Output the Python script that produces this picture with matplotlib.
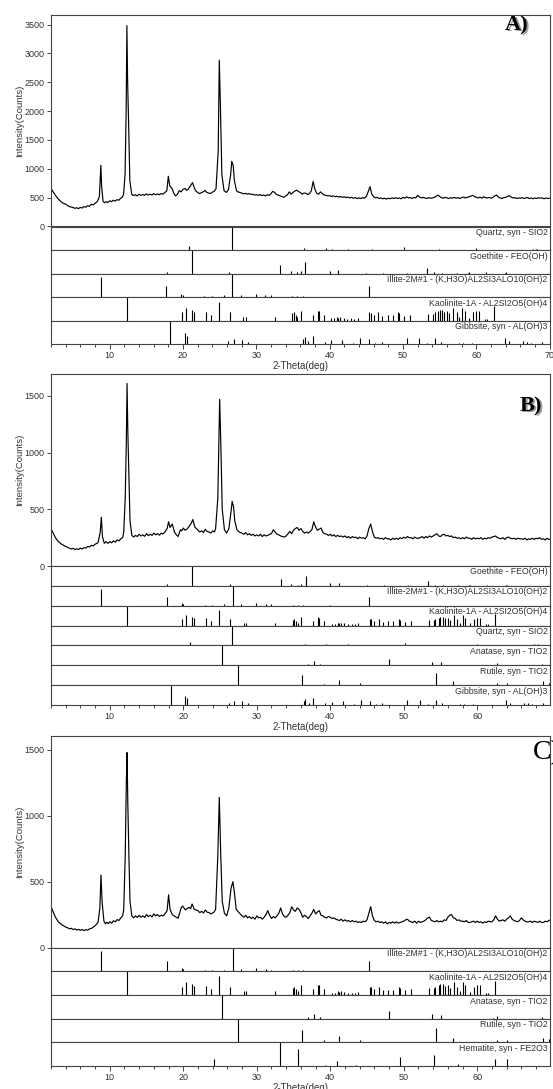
import matplotlib
matplotlib.use('Agg')
import matplotlib.pyplot as plt
import numpy as np
from matplotlib.ticker import MultipleLocator

plt.rcParams['font.family'] = ['Liberation Sans', 'DejaVu Sans']

# ---- measured patterns (2-theta, counts) ----
# low-angle part, read point by point
A_theta_lo = [2.0, 2.3, 2.6, 3.0, 3.5, 4.0, 4.5, 5.0, 5.25, 5.5, 5.75, 6.0, 6.25, 6.5, 6.75, 7.0, 7.25, 7.5,
              7.75, 8.0, 8.3, 8.6, 8.8, 8.9, 9.1, 9.3, 9.5, 9.75, 10.0, 10.25, 10.5, 10.75, 11.0, 11.25, 11.5,
              11.75, 11.9, 12.1, 12.25, 12.35, 12.45, 12.6, 12.75, 13.0, 13.25, 13.5, 13.75, 14.0, 14.25, 14.5,
              14.75, 15.0, 15.25, 15.5, 15.75, 16.0, 16.25, 16.5, 16.75, 17.0, 17.25, 17.5, 17.8, 18.0, 18.2,
              18.5, 18.8, 19.0, 19.25, 19.5, 19.75, 20.0, 20.3, 20.5, 20.7, 21.0, 21.3, 21.6, 21.8, 22.0,
              22.25, 22.5, 22.75, 23.0, 23.25, 23.5, 23.75, 24.0, 24.25, 24.5, 24.8, 24.95, 25.1, 25.3, 25.6,
              25.9, 26.2, 26.5, 26.65, 26.85, 27.0, 27.3, 27.5, 27.75]
A_counts_lo = [660, 600, 540, 475, 415, 385, 345, 330, 315, 325, 310, 330, 320, 345, 335, 360, 350, 385,
               375, 400, 430, 520, 1060, 700, 440, 410, 430, 415, 445, 430, 455, 440, 465, 455, 490,
               510, 560, 900, 2000, 3480, 2500, 1700, 800, 560, 535, 550, 530, 560, 540, 555,
               540, 565, 545, 560, 545, 570, 550, 565, 550, 570, 560, 585, 620, 870, 700,
               660, 560, 530, 560, 620, 600, 645, 660, 625, 645, 700, 760, 650, 610, 590,
               570, 585, 600, 625, 590, 580, 570, 595, 610, 650, 1300, 2880, 2100, 900, 620,
               590, 640, 900, 1130, 1060, 800, 620, 600, 590]

B_theta_lo = [2.0, 2.3, 2.6, 3.0, 3.5, 4.0, 4.5, 4.75, 5.0, 5.25, 5.5, 5.75, 6.0, 6.25, 6.5, 6.75, 7.0, 7.25,
              7.5, 7.75, 8.0, 8.4, 8.7, 8.85, 9.0, 9.25, 9.5, 9.75, 10.0, 10.25, 10.5, 10.75, 11.0, 11.25,
              11.5, 11.75, 11.9, 12.1, 12.25, 12.35, 12.45, 12.6, 12.75, 13.0, 13.25, 13.5, 13.75, 14.0,
              14.25, 14.5, 14.75, 15.0, 15.25, 15.5, 15.75, 16.0, 16.25, 16.5, 16.75, 17.0, 17.25, 17.5,
              17.8, 18.0, 18.2, 18.5, 18.8, 19.0, 19.3, 19.6, 19.8, 20.0, 20.25, 20.5, 20.8, 21.1, 21.3,
              21.6, 21.8, 22.0, 22.25, 22.5, 22.75, 23.0, 23.25, 23.5, 23.75, 24.0, 24.25, 24.4, 24.7,
              24.95, 25.1, 25.3, 25.6, 25.9, 26.2, 26.5, 26.65, 26.85, 27.0, 27.3, 27.5, 27.75]
B_counts_lo = [330, 290, 250, 215, 190, 172, 158, 150, 156, 145, 152, 146, 158, 150, 162, 158, 172, 168,
               182, 178, 192, 205, 300, 430, 260, 200, 215, 200, 215, 205, 222, 210, 230, 222,
               240, 250, 300, 600, 1100, 1610, 1200, 800, 400, 270, 255, 270, 260, 280,
               265, 275, 262, 285, 268, 280, 270, 290, 275, 285, 272, 290, 282, 300,
               330, 390, 340, 370, 300, 280, 260, 320, 310, 335, 315, 325, 350, 380, 410,
               340, 330, 315, 300, 310, 295, 325, 305, 300, 290, 310, 300, 330, 600,
               1470, 1100, 500, 320, 290, 330, 480, 570, 520, 400, 320, 305, 295]

C_theta_lo = [2.0, 2.3, 2.6, 3.0, 3.5, 4.0, 4.25, 4.5, 4.75, 5.0, 5.25, 5.5, 5.75, 6.0, 6.25, 6.5, 6.75, 7.0,
              7.25, 7.5, 7.75, 8.0, 8.4, 8.65, 8.8, 8.95, 9.2, 9.4, 9.6, 9.8, 10.0, 10.25, 10.5, 10.75,
              11.0, 11.25, 11.5, 11.75, 11.9, 12.1, 12.25, 12.35, 12.45, 12.6, 12.75, 13.0, 13.25, 13.5,
              13.75, 14.0, 14.25, 14.5, 14.75, 15.0, 15.25, 15.5, 15.75, 16.0, 16.25, 16.5, 16.75, 17.0,
              17.25, 17.5, 17.8, 18.0, 18.2, 18.5, 18.75, 19.0, 19.3, 19.7, 19.9, 20.1, 20.3, 20.5, 20.8,
              21.0, 21.2, 21.5, 21.75, 22.0, 22.25, 22.5, 22.75, 23.0, 23.25, 23.5, 23.75, 24.0, 24.2,
              24.4, 24.7, 24.9, 25.1, 25.3, 25.6, 25.9, 26.2, 26.5, 26.75, 26.95, 27.2, 27.5, 27.75]
C_counts_lo = [310, 270, 230, 195, 172, 155, 150, 142, 146, 136, 142, 132, 138, 130, 137, 128, 136, 132,
               142, 145, 155, 165, 190, 300, 550, 350, 200, 180, 192, 182, 195, 185, 203, 195,
               212, 205, 225, 240, 290, 700, 1250, 1480, 1100, 700, 350, 240, 225, 240,
               228, 245, 230, 240, 228, 250, 235, 245, 232, 255, 240, 250, 236, 245,
               240, 255, 280, 400, 290, 250, 240, 232, 222, 300, 315, 300, 285, 295, 305,
               295, 330, 290, 285, 280, 265, 275, 262, 285, 268, 265, 255, 262, 270,
               290, 700, 1140, 700, 350, 260, 240, 300, 450, 500, 420, 290, 270, 255]

# high-angle part, read every 0.25 deg from 28 to 70
theta_hi = np.arange(28.0, 70.001, 0.25)
A_counts_hi = [580, 565, 575, 560, 570, 555, 560, 545, 550, 540, 555, 535, 545, 530, 550, 540,
               570, 610, 590, 555, 545, 530, 520, 505, 530, 550, 600, 560, 590, 615, 630, 605,
               590, 560, 580, 575, 555, 570, 620, 780, 640, 575, 560, 600, 570, 545, 540, 530,
               535, 520, 530, 515, 525, 510, 520, 505, 515, 500, 510, 495, 505, 490, 500, 485,
               495, 485, 500, 490, 520, 600, 690, 560, 515, 495, 505, 485, 495, 480, 490, 475,
               490, 480, 495, 485, 500, 485, 495, 480, 505, 490, 515, 495, 500, 485, 505, 495,
               540, 510, 495, 505, 495, 485, 500, 490, 495, 505, 520, 545, 520, 500, 490, 505,
               495, 485, 500, 490, 505, 490, 500, 485, 500, 510, 495, 505, 515, 525, 540, 520,
               505, 495, 510, 490, 515, 500, 495, 505, 490, 505, 530, 545, 510, 495, 485, 500,
               505, 520, 535, 510, 495, 500, 485, 495, 490, 500, 485, 495, 500, 485, 495, 480,
               495, 485, 500, 490, 495, 480, 495, 485, 490]
B_counts_hi = [290, 280, 295, 275, 285, 270, 280, 265, 275, 265, 280, 260, 275, 265, 270, 280,
               285, 320, 300, 280, 275, 265, 260, 255, 265, 285, 305, 285, 315, 330, 340, 315,
               330, 305, 290, 300, 290, 305, 320, 390, 345, 315, 325, 335, 295, 285, 280, 270,
               280, 265, 275, 260, 270, 260, 265, 255, 265, 250, 260, 245, 260, 250, 255, 240,
               255, 245, 250, 240, 265, 330, 370, 300, 255, 245, 250, 240, 245, 235, 250, 240,
               240, 230, 245, 235, 245, 235, 250, 240, 255, 245, 260, 250, 250, 240, 255, 245,
               245, 250, 260, 245, 260, 250, 265, 255, 265, 275, 285, 265, 260, 275, 280, 265,
               270, 260, 265, 250, 255, 245, 250, 240, 250, 240, 255, 245, 245, 235, 250, 240,
               245, 240, 250, 235, 245, 240, 250, 245, 255, 260, 265, 250, 245, 240, 250, 235,
               250, 255, 245, 240, 245, 235, 245, 240, 240, 235, 245, 230, 240, 235, 245, 235,
               245, 240, 250, 235, 240, 230, 245, 235, 235]
C_counts_hi = [240, 230, 245, 225, 235, 220, 230, 215, 240, 225, 230, 215, 230, 250, 280, 245,
               220, 235, 225, 240, 260, 300, 255, 235, 230, 245, 265, 310, 285, 275, 300, 290,
               265, 230, 245, 235, 220, 240, 260, 290, 255, 270, 280, 245, 240, 230, 225, 235,
               230, 220, 225, 215, 210, 205, 215, 200, 210, 200, 205, 195, 205, 195, 200, 190,
               195, 190, 200, 195, 210, 260, 310, 240, 205, 195, 200, 190, 195, 185, 195, 180,
               190, 185, 195, 185, 195, 185, 190, 195, 200, 210, 215, 200, 195, 190, 200, 185,
               200, 190, 195, 200, 210, 225, 230, 205, 200, 195, 205, 195, 200, 195, 210, 205,
               230, 245, 250, 225, 220, 205, 210, 200, 200, 195, 205, 190, 190, 195, 200, 190,
               200, 190, 195, 185, 195, 190, 200, 195, 195, 210, 240, 215, 200, 205, 210, 200,
               215, 225, 240, 215, 205, 200, 195, 205, 225, 210, 200, 195, 195, 200, 190, 200,
               195, 190, 200, 190, 190, 200, 195, 205, 210]

# ---- reference stick patterns (2-theta, relative intensity %) ----
quartz_pos = [20.86, 26.64, 36.54, 39.47, 40.29, 42.45, 45.79, 50.14, 54.87, 55.33, 59.96, 64.03, 67.74, 68.14, 68.31]
quartz_int = [16, 100, 7, 7, 4, 5, 3, 11, 3, 2, 8, 2, 5, 4, 6]

goethite_pos = [17.8, 21.22, 26.3, 33.24, 34.7, 35.6, 36.05, 36.65, 39.98, 41.19, 45.0, 47.3, 50.6, 53.24,
                54.2, 55.3, 57.4, 58.9, 59.0, 61.3, 63.9, 64.0]
goethite_int = [8, 100, 7, 35, 10, 6, 10, 50, 12, 16, 3, 3, 4, 22, 5, 3, 3, 4, 6, 5, 4, 6]

illite_pos = [8.84, 17.72, 19.78, 20.0, 22.9, 23.9, 25.6, 26.75, 27.9, 29.9, 31.2, 32.0, 34.9, 35.6, 36.3, 40.0, 45.3]
illite_int = [85, 45, 12, 10, 5, 6, 7, 100, 10, 12, 8, 7, 6, 5, 5, 2, 45]

kaolinite_pos = [12.36, 19.86, 20.36, 21.24, 21.5, 23.1, 23.8, 24.9, 26.4, 28.2, 28.6, 32.5, 34.9, 35.1, 35.4,
                 35.6, 36.05, 37.7, 38.35, 38.5, 39.2, 40.2, 40.6, 41.0, 41.2, 41.4, 41.9, 42.4, 42.9, 43.3,
                 43.8, 45.4, 45.6, 46.0, 46.6, 47.2, 47.9, 48.6, 49.3, 49.5, 50.2, 51.0, 53.4, 54.1, 54.3,
                 54.8, 55.0, 55.3, 55.6, 56.0, 56.3, 56.8, 57.3, 57.7, 58.1, 58.4, 59.0, 59.6, 60.0, 60.4,
                 61.2, 61.5, 62.4]
kaolinite_int = [100, 35, 55, 45, 38, 38, 25, 78, 35, 15, 15, 15, 30, 35, 25,
                 15, 42, 25, 42, 40, 25, 10, 10, 15, 12, 15, 12, 8, 10, 8,
                 12, 35, 32, 25, 35, 20, 22, 22, 35, 30, 20, 25, 28, 28, 35,
                 40, 45, 45, 38, 40, 30, 55, 35, 15, 55, 40, 12, 35, 40, 40,
                 8, 8, 60]

gibbsite_pos = [18.28, 20.28, 20.5, 26.2, 26.9, 28.0, 28.8, 36.4, 36.6, 37.1, 37.7, 39.3, 40.2, 41.7, 43.2,
                44.2, 45.4, 46.2, 47.1, 50.5, 52.2, 53.3, 54.4, 55.2, 57.6, 58.2, 59.4, 63.9, 64.5, 66.4,
                66.9, 67.4, 68.9]
gibbsite_int = [100, 45, 35, 12, 20, 18, 10, 20, 30, 12, 35, 10, 15, 18, 5,
                25, 20, 5, 10, 25, 25, 5, 25, 8, 5, 4, 5, 25, 12, 12,
                10, 4, 8]

anatase_pos = [25.3, 36.95, 37.8, 38.57, 48.05, 53.89, 55.06, 62.12, 62.69, 68.76]
anatase_int = [100, 6, 20, 6, 30, 18, 17, 3, 12, 5]

rutile_pos = [27.45, 36.09, 39.19, 41.25, 44.05, 54.32, 56.64, 62.74, 64.04, 65.48, 69.0, 69.79]
rutile_int = [100, 50, 8, 25, 10, 60, 20, 10, 10, 2, 20, 12]

hematite_pos = [24.14, 33.15, 35.61, 39.28, 40.86, 43.52, 49.48, 54.09, 57.43, 62.45, 64.03]
hematite_int = [30, 100, 72, 3, 20, 3, 40, 45, 8, 30, 30]

phases = {
    'Quartz, syn - SIO2': (quartz_pos, quartz_int),
    'Goethite - FEO(OH)': (goethite_pos, goethite_int),
    'Illite-2M#1 - (K,H3O)AL2SI3ALO10(OH)2': (illite_pos, illite_int),
    'Kaolinite-1A - AL2SI2O5(OH)4': (kaolinite_pos, kaolinite_int),
    'Gibbsite, syn - AL(OH)3': (gibbsite_pos, gibbsite_int),
    'Anatase, syn - TIO2': (anatase_pos, anatase_int),
    'Rutile, syn - TIO2': (rutile_pos, rutile_int),
    'Hematite, syn - FE2O3': (hematite_pos, hematite_int),
}

A_phases = ['Quartz, syn - SIO2', 'Goethite - FEO(OH)', 'Illite-2M#1 - (K,H3O)AL2SI3ALO10(OH)2',
            'Kaolinite-1A - AL2SI2O5(OH)4', 'Gibbsite, syn - AL(OH)3']
B_phases = ['Goethite - FEO(OH)', 'Illite-2M#1 - (K,H3O)AL2SI3ALO10(OH)2', 'Kaolinite-1A - AL2SI2O5(OH)4',
            'Quartz, syn - SIO2', 'Anatase, syn - TIO2', 'Rutile, syn - TIO2', 'Gibbsite, syn - AL(OH)3']
C_phases = ['Illite-2M#1 - (K,H3O)AL2SI3ALO10(OH)2', 'Kaolinite-1A - AL2SI2O5(OH)4', 'Anatase, syn - TIO2',
            'Rutile, syn - TIO2', 'Hematite, syn - FE2O3']

W, H = 553, 1089
LEFT, RIGHT = 51, 550
TXT = '#333333'
EDGE = '#444444'


def box(top, bottom):
    return [LEFT / W, 1 - bottom / H, (RIGHT - LEFT) / W, (bottom - top) / H]


def pattern(fig, top, bottom, theta_lo, counts_lo, counts_hi, ymax, yticks, xlim):
    ax = fig.add_axes(box(top, bottom))
    theta = np.concatenate([theta_lo, theta_hi])
    counts = np.concatenate([counts_lo, counts_hi])
    ax.plot(theta, counts, color='black', lw=0.85)
    ax.set_xlim(*xlim)
    ax.set_ylim(0, ymax)
    ax.set_xticks([])
    ax.set_yticks(yticks)
    ax.tick_params(axis='y', direction='out', length=3, width=0.7, color=EDGE,
                   labelsize=6.5, labelcolor=TXT, pad=1.5)
    for s in ax.spines.values():
        s.set_color(EDGE)
        s.set_linewidth(0.8)
    fig.text(20 / W, 1 - (top + bottom) / 2 / H, 'Intensity(Counts)', rotation=90,
             ha='center', va='center', fontsize=6.8, color=TXT)
    return ax


def sticks(fig, top, bottom, names, xlim):
    n = len(names)
    step = (bottom - top) / n
    for i, name in enumerate(names):
        t = top + i * step
        ax = fig.add_axes(box(t, t + step))
        pos, rel = phases[name]
        ax.vlines(pos, 0, rel, color='black', lw=0.8)
        ax.set_xlim(*xlim)
        ax.set_ylim(0, 100)
        ax.set_yticks([])
        for s in ax.spines.values():
            s.set_color(EDGE)
            s.set_linewidth(0.8)
        ax.text(0.995, 0.93, name, transform=ax.transAxes, ha='right', va='top',
                fontsize=6.3, color=TXT)
        if i < n - 1:
            ax.set_xticks([])
        else:
            ax.xaxis.set_major_locator(MultipleLocator(10))
            ax.xaxis.set_minor_locator(MultipleLocator(2))
            ax.tick_params(axis='x', which='major', direction='out', length=3.5, width=0.7,
                           color=EDGE, labelsize=6.5, labelcolor=TXT, pad=1.5)
            ax.tick_params(axis='x', which='minor', direction='out', length=2.5, width=0.7, color=EDGE)
            ax.set_xlabel('2-Theta(deg)', fontsize=7, color=TXT, labelpad=0.5)


def tag(fig, x, y, s, size, bold):
    w = 'bold' if bold else 'normal'
    if bold:
        fig.text((x + 1.5) / W, 1 - (y + 1) / H, s, fontsize=size, fontweight=w,
                 family='Liberation Serif', color='#999999', ha='left', va='center')
    fig.text(x / W, 1 - y / H, s, fontsize=size, fontweight=w,
             family='Liberation Serif', color='black', ha='left', va='center')


fig = plt.figure(figsize=(W / 100, H / 100), dpi=100, facecolor='white')

# panel A
pattern(fig, 15, 226.5, A_theta_lo, A_counts_lo, A_counts_hi, 3665, range(0, 3501, 500), (2, 70.05))
sticks(fig, 226.5, 344, A_phases, (2, 70.05))
tag(fig, 505, 25, 'A)', 16, True)

# panel B
pattern(fig, 374, 566, B_theta_lo, B_counts_lo, B_counts_hi, 1694, [0, 500, 1000, 1500], (2, 69.9))
sticks(fig, 566, 705, B_phases, (2, 69.9))
tag(fig, 520, 406, 'B)', 16, True)

# panel C
pattern(fig, 736, 947.5, C_theta_lo, C_counts_lo, C_counts_hi, 1606, [0, 500, 1000, 1500], (2, 69.9))
sticks(fig, 947.5, 1066, C_phases, (2, 69.9))
tag(fig, 533, 753, 'C)', 20, False)

fig.savefig('out.png', dpi=100, facecolor='white')
